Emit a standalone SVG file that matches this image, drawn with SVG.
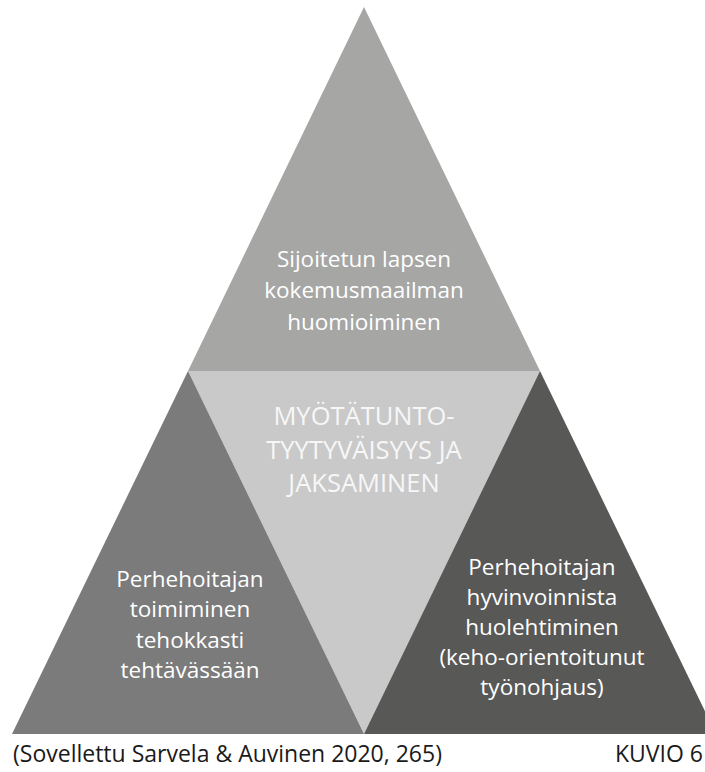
<svg xmlns="http://www.w3.org/2000/svg" width="705" height="772" viewBox="0 0 705 772">
<style>
.lbl{font-family:"Open Sans","Liberation Sans",sans-serif;font-size:22.5px;fill:#ffffff;text-anchor:middle}
.ctr{font-family:"Open Sans","Liberation Sans",sans-serif;font-size:25.5px;fill:#f7f7f7;text-anchor:middle}
.cap{font-family:"Open Sans","Liberation Sans",sans-serif;font-size:23px;fill:#1a1a1a}
</style>
<rect width="705" height="772" fill="#ffffff"/>
<g id="top">
<polygon points="364,7 540,371 188,371" fill="#a6a6a5"/>
<text class="lbl" x="364" y="267">Sijoitetun lapsen</text>
<text class="lbl" x="364" y="298">kokemusmaailman</text>
<text class="lbl" x="364" y="330">huomioiminen</text>
</g>
<g id="center">
<polygon points="188,371 540,371 364,734" fill="#c9c9c9"/>
<text class="ctr" x="364" y="425">MYÖTÄTUNTO-</text>
<text class="ctr" x="364" y="459">TYYTYVÄISYYS JA</text>
<text class="ctr" x="364" y="492">JAKSAMINEN</text>
</g>
<g id="left">
<polygon points="188,371 364,734 12,734" fill="#7b7b7b"/>
<text class="lbl" x="190" y="587">Perhehoitajan</text>
<text class="lbl" x="190" y="617">toimiminen</text>
<text class="lbl" x="190" y="648">tehokkasti</text>
<text class="lbl" x="190" y="678">tehtävässään</text>
</g>
<g id="right">
<polygon points="540,371 716,734 364,734" fill="#585857"/>
<text class="lbl" x="542" y="575">Perhehoitajan</text>
<text class="lbl" x="542" y="605">hyvinvoinnista</text>
<text class="lbl" x="542" y="635">huolehtiminen</text>
<text class="lbl" x="542" y="665">(keho-orientoitunut</text>
<text class="lbl" x="542" y="695">työnohjaus)</text>
</g>
<g id="connectors"/>
<g id="caption">
<text class="cap" x="13" y="762">(Sovellettu Sarvela &amp; Auvinen 2020, 265)</text>
<text class="cap" x="703" y="762" text-anchor="end">KUVIO 6</text>
</g>
</svg>
